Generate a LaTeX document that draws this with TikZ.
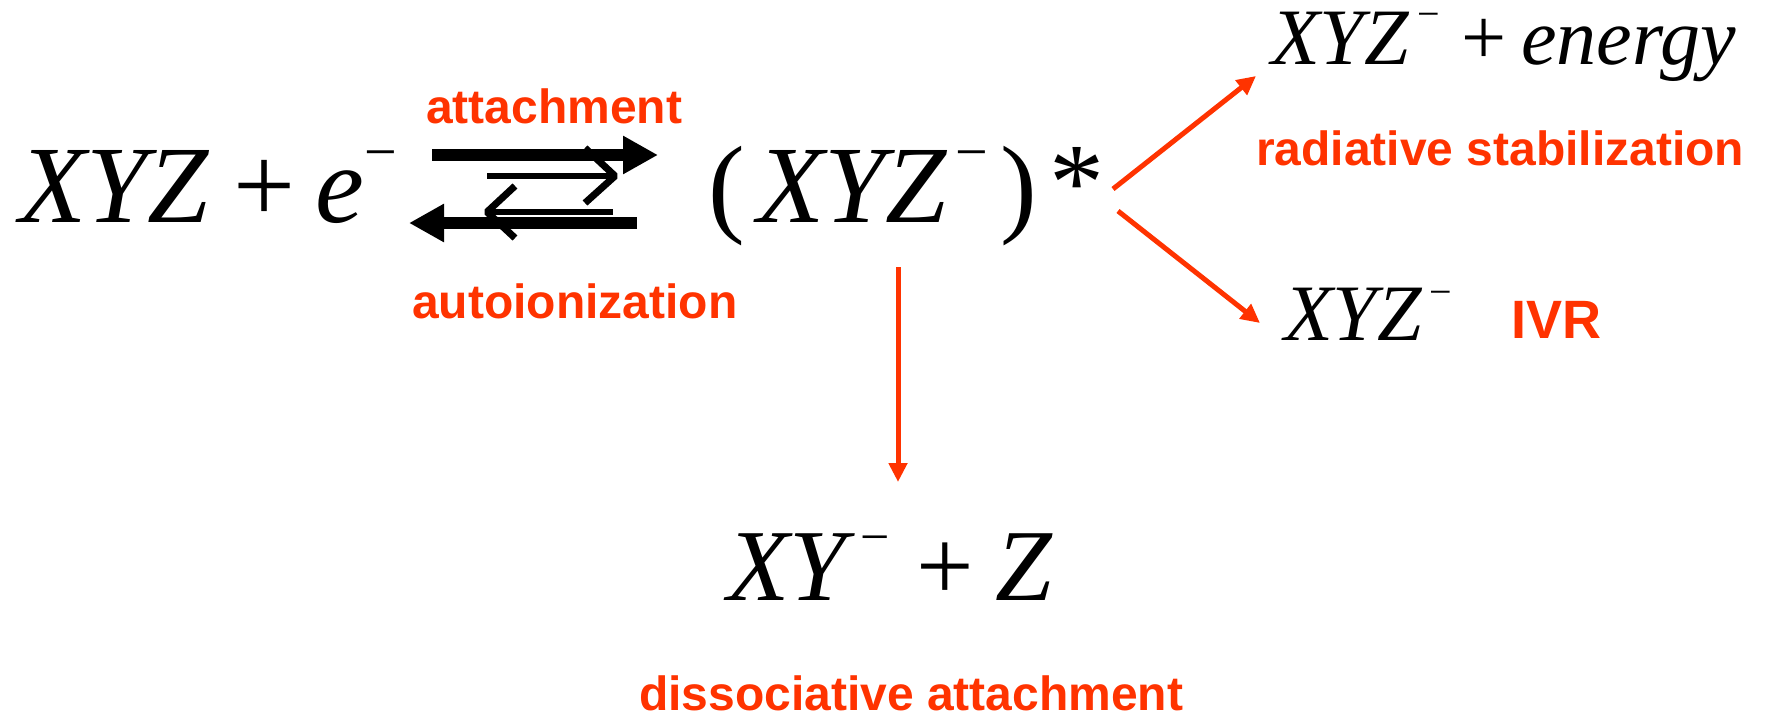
\documentclass[tikz,border=0pt]{standalone}
\usepackage{fontspec}
\setmainfont{Liberation Serif}
\newfontfamily\lblfont{Liberation Sans}
\usetikzlibrary{arrows.meta}
\definecolor{rd}{RGB}{255,51,0}
\begin{document}
\begin{tikzpicture}[x=1pt,y=-1pt,
  every node/.style={inner sep=0pt, outer sep=0pt, anchor=base west},
  fL/.style={font=\fontsize{110}{120}\selectfont\itshape},
  oL/.style={font=\fontsize{110}{120}\selectfont},
  fM/.style={font=\fontsize{102}{110}\selectfont\itshape},
  oM/.style={font=\fontsize{102}{110}\selectfont},
  fS/.style={font=\fontsize{80}{90}\selectfont\itshape},
  oS/.style={font=\fontsize{80}{90}\selectfont},
  supL/.style={font=\fontsize{58}{60}\selectfont},
  supM/.style={font=\fontsize{52}{56}\selectfont},
  supS/.style={font=\fontsize{40}{44}\selectfont},
  lab/.style={font=\lblfont\bfseries\fontsize{48}{50}\selectfont, text=rd},
  labbig/.style={font=\lblfont\bfseries\fontsize{54}{58}\selectfont, text=rd},
  thickarr/.style={draw=black, line width=12pt, -{Triangle[length=35pt,width=36pt]}},
  thinline/.style={draw=black, line width=6pt},
  barb/.style={draw=black, line width=7pt, line join=bevel},
  redarr/.style={draw=rd, line width=5pt, -{Triangle[length=19pt,width=18pt]}}]
\fill[white] (0,0) rectangle (1766,717);
\useasboundingbox (0,0) rectangle (1766,717);

% left side: XYZ + e^-
\node[fL] (xyz1) at (19,222) {XYZ};
\node[oL] (plus1) at (233,222) {+};
\node[fL] (e1) at (315,222) {e};
\node[supL] (m1) at (364,171.5) {−};

% complex (XYZ^-)*
\node[oL] (lp) at (708,222) {(};
\node[fL] (xyz2) at (757,222) {XYZ};
\node[supL] (m2) at (955,171.5) {−};
\node[oL] (rp) at (1000,222) {)};
\node[oL] (star) at (1049,219) {*};

% top right
\node[fS] (xyz3) at (1271,65) {XYZ};
\node[supS] (m3) at (1417,28) {−};
\node[oS] (plus3) at (1461,65) {+};
\node[fS] (energy) at (1521,65) {energy};
\node[lab] (radlab) at (1256,165) {radiative stabilization};

% lower right
\node[fS] (xyz4) at (1284,340) {XYZ};
\node[supS] (m4) at (1429,305) {−};
\node[labbig] (ivr) at (1511,338) {IVR};

% bottom
\node[fM] (xy) at (727,600) {XY};
\node[supM] (m5) at (860,554) {−};
\node[oM] (plus5) at (916,600) {+};
\node[fM] (z5) at (995,600) {Z};
\node[lab] (dislab) at (639,710) {dissociative attachment};

% equilibrium labels
\node[lab] (attlab) at (426,123) {attachment};
\node[lab] (autolab) at (412,318) {autoionization};

% equilibrium arrows
\coordinate (fa1) at (432,155);
\coordinate (fa2) at (658,155);
\coordinate (ba1) at (637,223);
\coordinate (ba2) at (409,223);
\draw[thickarr] (fa1) -- (fa2);
\draw[thickarr] (ba1) -- (ba2);

\coordinate (ta1) at (487,176);
\coordinate (ta2) at (615,176);
\draw[thinline] (ta1) -- (ta2);
\draw[barb] (585,148) -- (ta2) -- (585,203);

\coordinate (tb1) at (613,212);
\coordinate (tb2) at (487,212);
\draw[thinline] (tb1) -- (tb2);
\draw[barb] (515,186) -- (tb2) -- (515,238);

% red reaction arrows
\coordinate (s1) at (1113,189);
\coordinate (e1t) at (1256,76);
\coordinate (s2) at (1118,211);
\coordinate (e2t) at (1260,323);
\coordinate (s3) at (898,267);
\coordinate (e3t) at (898,482);
\draw[redarr] (s1) -- (e1t);
\draw[redarr] (s2) -- (e2t);
\draw[redarr] (s3) -- (e3t);
\end{tikzpicture}
\end{document}
